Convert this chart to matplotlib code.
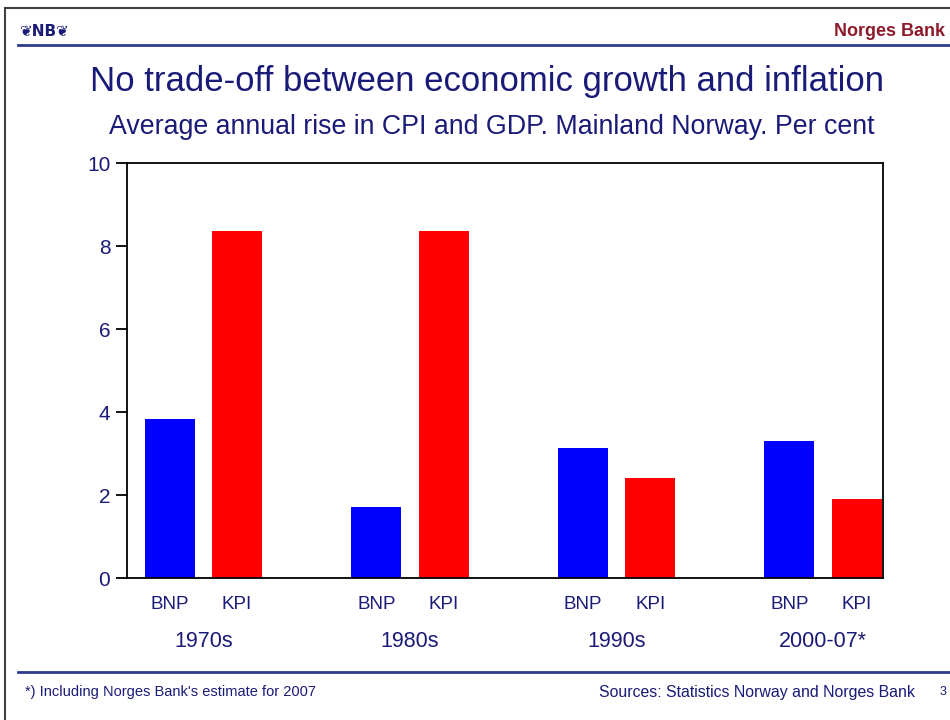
import matplotlib.pyplot as plt
from matplotlib.patches import Rectangle
from matplotlib.lines import Line2D
import numpy as np

plt.rcParams['font.family'] = ['Liberation Sans', 'DejaVu Sans']

# data
periods = ["1970s", "1980s", "1990s", "2000-07*"]
bnp = [3.82, 1.70, 3.14, 3.30]
kpi = [8.36, 8.36, 2.42, 1.90]
series_names = ["BNP", "KPI"]

navy = "#1a1a78"
dark_red = "#8c1a2a"

fig = plt.figure(figsize=(9.5, 7.2), dpi=100)

# frame of the slide
fig.patches.append(Rectangle((5 / 950, -0.1), 1.2, 1.1 - 8 / 720, transform=fig.transFigure,
                             fill=False, edgecolor="#404040", linewidth=1.5))

# header / footer rules
fig.lines.append(Line2D([18 / 950, 1.0], [1 - 45 / 720] * 2, transform=fig.transFigure,
                        color="#2e3a8c", linewidth=2))
fig.lines.append(Line2D([18 / 950, 1.0], [1 - 672 / 720] * 2, transform=fig.transFigure,
                        color="#2e3a8c", linewidth=2))

fig.text(19 / 950, 1 - 31 / 720, "\u2766NB\u2766", color=navy, fontsize=11, fontweight="bold",
         va="center", ha="left", family=["DejaVu Sans"])
fig.text(945 / 950, 1 - 31 / 720, "Norges Bank", color=dark_red, fontsize=13, fontweight="bold",
         va="center", ha="right")

fig.text(487 / 950, 1 - 81 / 720, "No trade-off between economic growth and inflation",
         color=navy, fontsize=25, ha="center", va="center")
fig.text(492 / 950, 1 - 127 / 720, "Average annual rise in CPI and GDP. Mainland Norway. Per cent",
         color=navy, fontsize=19.3, ha="center", va="center")

fig.text(25 / 950, 1 - 692 / 720, "*) Including Norges Bank's estimate for 2007", color=navy,
         fontsize=10.5, ha="left", va="center")
fig.text(915 / 950, 1 - 692 / 720, "Sources: Statistics Norway and Norges Bank", color=navy,
         fontsize=11.4, ha="right", va="center")
fig.text(943 / 950, 1 - 692 / 720, "3", color=navy, fontsize=9, ha="center", va="center")

ax = fig.add_axes([127 / 950, 1 - 578 / 720, 756 / 950, 415 / 720])

x = np.arange(len(periods))
w = 0.242
off = 0.163
ax.bar(x - off, bnp, w, color="#0000ff")
ax.bar(x + off, kpi, w, color="#ff0000")

ax.set_xlim(-0.37, 3.29)
ax.set_ylim(0, 10)
ax.set_yticks([0, 2, 4, 6, 8, 10])
ax.tick_params(axis="y", direction="out", length=8, width=1.3, colors="black",
               labelcolor=navy, labelsize=15, pad=4)
ax.set_xticks([])
for s in ax.spines.values():
    s.set_linewidth(1.3)

for i, p in enumerate(periods):
    for j, name in enumerate(series_names):
        ax.text(i - off + j * 2 * off, -0.63, name, color=navy, fontsize=13.5,
                ha="center", va="center", clip_on=False)
    ax.text(i, -1.53, p, color=navy, fontsize=15.5, ha="center", va="center", clip_on=False)

fig.savefig("out.png", dpi=100, facecolor="white")
